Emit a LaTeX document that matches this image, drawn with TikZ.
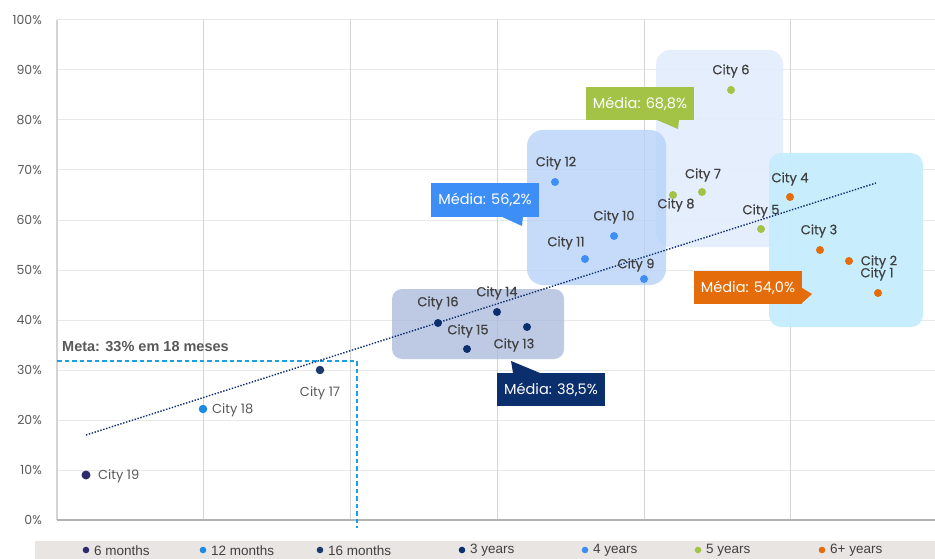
\documentclass[tikz,border=0pt]{standalone}
\usepackage{fontspec}
\setmainfont{Poppins}
\newfontfamily\popm[FakeBold=0.5]{Poppins}
\newfontfamily\arialf{Liberation Sans}
\definecolor{cSix}{HTML}{2C2B6D}
\definecolor{cTwelve}{HTML}{1C8AE0}
\definecolor{cSixteen}{HTML}{1B3A6B}
\definecolor{cThree}{HTML}{0B2E6C}
\definecolor{cFour}{HTML}{3D8EF7}
\definecolor{cFive}{HTML}{A3C347}
\definecolor{cOrange}{HTML}{E46C0A}
\definecolor{bThree}{HTML}{A9B8DC}
\definecolor{bFour}{HTML}{B3D0F8}
\definecolor{bFive}{HTML}{E3EDFC}
\definecolor{bSix}{HTML}{C6EDFD}
\definecolor{gridc}{HTML}{E8E8E8}
\definecolor{vgridc}{HTML}{D4D4D4}
\definecolor{txt}{HTML}{404040}
\definecolor{ltxt}{HTML}{595959}
\definecolor{legbg}{HTML}{E9E5E3}
\definecolor{metac}{HTML}{1BA1E2}
\tikzset{
  dotp/.style={circle,inner sep=0pt,minimum size=8pt,fill=#1},
  clab/.style={font=\popm\fontsize{13}{13}\selectfont,text=txt,inner sep=0pt},
  plab/.style={font=\fontsize{13}{13}\selectfont,text=ltxt,inner sep=0pt},
  ylab/.style={font=\fontsize{12.5}{12.5}\selectfont,text=ltxt,anchor=east,inner sep=0pt},
  leg/.style={font=\arialf\fontsize{13.5}{13.5}\selectfont,text=txt,anchor=west,inner sep=0pt},
  callout/.style={fill=#1,text=white,font=\fontsize{14.5}{14.5}\selectfont,minimum width=108pt,minimum height=33pt,inner sep=0pt}
}
\begin{document}
\begin{tikzpicture}[x=1pt,y=-1pt]
\useasboundingbox (0,0) rectangle (935,559);
\fill[white] (0,0) rectangle (935,559);
% horizontal grid
\foreach \v in {0,10,...,100} {
  \draw[gridc,line width=1pt] (57,520-5*\v) -- (935,520-5*\v);
  \node[ylab] at (42,520-5*\v) {\v\%};
}
% vertical grid
\foreach \xx in {203,350,497,644,790} {
  \draw[vgridc,line width=1pt] (\xx,20) -- (\xx,520);
}
\draw[vgridc,line width=1.2pt] (57,20) -- (57,520);
\draw[black!30,line width=1.2pt] (57,520) -- (935,520);
% legend band
\fill[legbg] (35,541) rectangle (935,559);
\foreach \cx/\col/\lab in {86/cSix/6 months,203/cTwelve/12 months,320/cSixteen/16 months,462/cThree/3 years,585/cFour/4 years,698/cFive/5 years,822/cOrange/6+ years} {
  \fill[\col] (\cx,550) circle (3.3pt);
  \node[leg] at (\cx+8,550.5) {\lab};
}
% group boxes
\fill[bFive,opacity=0.9,rounded corners=14pt] (656,50) rectangle (783,247);
\fill[bSix,opacity=0.95,rounded corners=12pt] (769,153) rectangle (923,327);
\fill[bFour,opacity=0.75,rounded corners=16pt] (527,130) rectangle (666,285);
\fill[bThree,opacity=0.75,rounded corners=10pt] (392,289) rectangle (564,359);
% meta lines
\coordinate (mA) at (57,361);
\coordinate (mB) at (357,361);
\coordinate (mC) at (357,528);
\draw[metac,dash pattern=on 4.5pt off 3pt,line width=1.1pt] (mA) -- (mB) -- (mC);
\node[font=\arialf\bfseries\fontsize{14.5}{14.5}\selectfont,text=ltxt,anchor=west,inner sep=0pt] (meta) at (62,347) {Meta: 33\% em 18 meses};
% trend line
\coordinate (t1) at (86,435);
\coordinate (t2) at (876,183);
\draw[cThree,line width=1.4pt,dash pattern=on 1.4pt off 1.6pt] (t1) -- (t2);
% points
\node[dotp=cSix,minimum size=9pt] (c19) at (86,475) {};
\node[dotp=cTwelve,minimum size=8.5pt] (c18) at (203,409) {};
\node[dotp=cSixteen,minimum size=8.5pt] (c17) at (320,370) {};
\node[plab,anchor=west] at (98,476) {City 19};
\node[plab,anchor=west] at (212,410) {City 18};
\node[plab] at (320,393) {City 17};
% 3 years
\node[dotp=cThree] (c16) at (438,323) {};
\node[dotp=cThree] (c14) at (497,312) {};
\node[dotp=cThree] (c15) at (467,349) {};
\node[dotp=cThree] (c13) at (527,327) {};
\node[clab] at (438,303) {City 16};
\node[clab] at (497,293) {City 14};
\node[clab] at (468,331) {City 15};
\node[clab] at (514,345) {City 13};
% 4 years
\node[dotp=cFour] (c12) at (555,182) {};
\node[dotp=cFour] (c10) at (614,236) {};
\node[dotp=cFour] (c11) at (585,259) {};
\node[dotp=cFour] (c9) at (644,279) {};
\node[clab] at (556,163) {City 12};
\node[clab] at (614,217) {City 10};
\node[clab] at (566,243) {City 11};
\node[clab] at (636,265) {City 9};
% 5 years
\node[dotp=cFive] (c6) at (731,90) {};
\node[dotp=cFive] (c7) at (702,192) {};
\node[dotp=cFive] (c8) at (673,195) {};
\node[dotp=cFive] (c5) at (761,229) {};
\node[clab] at (731,71) {City 6};
\node[clab] at (703,175) {City 7};
\node[clab] at (676,205) {City 8};
\node[clab] at (761,211) {City 5};
% 6+ years
\node[dotp=cOrange] (c4) at (790,197) {};
\node[dotp=cOrange] (c3) at (820,250) {};
\node[dotp=cOrange] (c2) at (849,261) {};
\node[dotp=cOrange] (c1) at (878,293) {};
\node[clab] at (790,179) {City 4};
\node[clab] at (819,231) {City 3};
\node[clab] at (879,262) {City 2};
\node[clab] at (877,274) {City 1};
% callouts
\node[callout=cThree] (m3) at (551,389.5) {Média: 38,5\%};
\fill[cThree] (511,361) -- (513,373) -- (540,373) -- cycle;
\node[callout=cFour] (m4) at (485,200) {Média: 56,2\%};
\fill[cFour] (500,216) -- (523,216) -- (522,226) -- cycle;
\node[callout=cFive] (m5) at (640,103.5) {Média: 68,8\%};
\fill[cFive] (657,120) -- (679,120) -- (678,129) -- cycle;
\node[callout=cOrange] (m6) at (748,287.5) {Média: 54,0\%};
\fill[cOrange] (802,288) -- (812,294) -- (802,303) -- cycle;
\end{tikzpicture}
\end{document}
